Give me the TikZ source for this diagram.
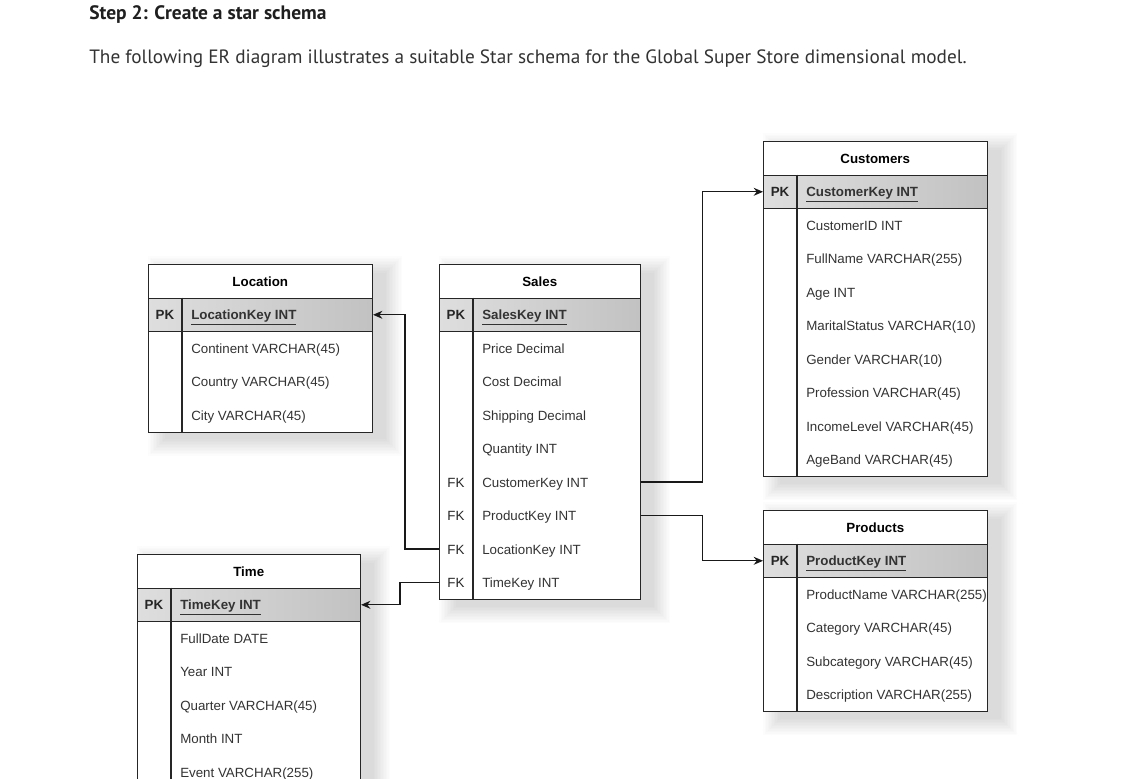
\documentclass[tikz,border=0pt]{standalone}
\usepackage{fontspec}
\setmainfont{Liberation Sans}
\newfontfamily\webfont{PT Sans}
\usetikzlibrary{arrows.meta,calc}
\tikzset{
  tbl/.style={draw=black!85, line width=0.8pt, fill=white, inner sep=0pt, anchor=north west},
  shadowlayer/.style={fill=black, opacity=0.011},
  titlebox/.style={inner sep=0pt, anchor=north west, minimum height=25.125pt},
  titletxt/.style={inner sep=0pt, anchor=base, font=\fontsize{10}{12}\selectfont\bfseries},
  pkbox/.style={draw=black!85, line width=0.8pt, inner sep=0pt, anchor=north west, minimum height=25.125pt,
    left color=black!13, right color=black!24},
  band/.style={inner sep=0pt, anchor=north west, minimum height=25.125pt},
  divline/.style={draw=black!85, line width=0.8pt},
  keytxt/.style={inner sep=0pt, anchor=base, font=\fontsize{10}{12}\selectfont, text=black!85},
  fieldtxt/.style={inner sep=0pt, anchor=base west, font=\fontsize{10}{12}\selectfont, text=black!80},
  conn/.style={draw=black!90, line width=0.8pt, -{Stealth[length=7pt,width=6pt]}},
}
\newcommand{\ertable}[8]{%
  \foreach \s in {1,...,12} {
    \path[shadowlayer] ({#2+18-1.5*\s},{#3+10-1.5*\s}) rectangle ({#2+#4+12+1.5*\s},{#3+33.5*(#5+2)+6+1.5*\s});
  }%
  \node[tbl, minimum width=#4*0.75pt, minimum height=(#5+2)*25.125pt] (#1) at (#2,#3) {};
  \node[titlebox, minimum width=#4*0.75pt] (#1-title) at (#2,#3) {};
  \node[titletxt] (#1-titletxt) at ($(#1-title.center)+(0,5)$) {#6};
  \node[pkbox, minimum width=#4*0.75pt] (#1-pk) at ({#2},{#3+33.5}) {};
  \draw[divline] ({#2+34},{#3+33.5}) -- ({#2+34},{#3+33.5*(#5+2)});
  \node[keytxt] (#1-pkkey) at ($(#1-pk.west)+(17,5)$) {\textbf{PK}};
  \node[fieldtxt] (#1-pktxt) at ($(#1-pk.west)+(43,5)$) {\textbf{\underline{#7}}};
  \foreach \k/\t [count=\i] in {#8} {
    \node[band, minimum width=#4*0.75pt] (#1-r\i) at ({#2},{#3+33.5+33.5*\i}) {};
    \node[keytxt] (#1-k\i) at ($(#1-r\i.west)+(17,5)$) {\k};
    \node[fieldtxt] (#1-t\i) at ($(#1-r\i.west)+(43,5)$) {\t};
  }%
}
\begin{document}
\begin{tikzpicture}[x=0.75pt,y=-0.75pt]
\clip (0,0) rectangle (1137,778);
\fill[white] (0,0) rectangle (1137,778);

\node[anchor=base west, inner sep=0pt, font=\webfont\fontsize{14.6}{17}\selectfont\bfseries, text=black!88] (head) at (89,19) {Step 2: Create a star schema};
\node[anchor=base west, inner sep=0pt, font=\webfont\fontsize{14.45}{17}\selectfont, text=black!80] (intro) at (89,63) {The following ER diagram illustrates a suitable Star schema for the Global Super Store dimensional model.};

\ertable{cust}{763}{141}{224}{8}{Customers}{CustomerKey INT}{{}/CustomerID INT, {}/FullName VARCHAR(255), {}/Age INT, {}/MaritalStatus VARCHAR(10), {}/Gender VARCHAR(10), {}/Profession VARCHAR(45), {}/IncomeLevel VARCHAR(45), {}/AgeBand VARCHAR(45)}
\ertable{prod}{763}{510}{224}{4}{Products}{ProductKey INT}{{}/ProductName VARCHAR(255), {}/Category VARCHAR(45), {}/Subcategory VARCHAR(45), {}/Description VARCHAR(255)}
\ertable{loc}{148}{264}{224}{3}{Location}{LocationKey INT}{{}/Continent VARCHAR(45), {}/Country VARCHAR(45), {}/City VARCHAR(45)}
\ertable{time}{137}{554}{223}{6}{Time}{TimeKey INT}{{}/FullDate DATE, {}/Year INT, {}/Quarter VARCHAR(45), {}/Month INT, {}/Event VARCHAR(255)}
\ertable{sales}{439}{264}{201}{8}{Sales}{SalesKey INT}{{}/Price Decimal, {}/Cost Decimal, {}/Shipping Decimal, {}/Quantity INT, FK/CustomerKey INT, FK/ProductKey INT, FK/LocationKey INT, FK/TimeKey INT}

\draw[conn] (sales-r5.east) -- ++(62,0) |- (cust-pk.west);
\draw[conn] (sales-r6.east) -- ++(62,0) |- (prod-pk.west);
\draw[conn] (sales-r7.west) -- ++(-34,0) |- (loc-pk.east);
\draw[conn] (sales-r8.west) -- ++(-39,0) |- (time-pk.east);
\end{tikzpicture}
\end{document}
